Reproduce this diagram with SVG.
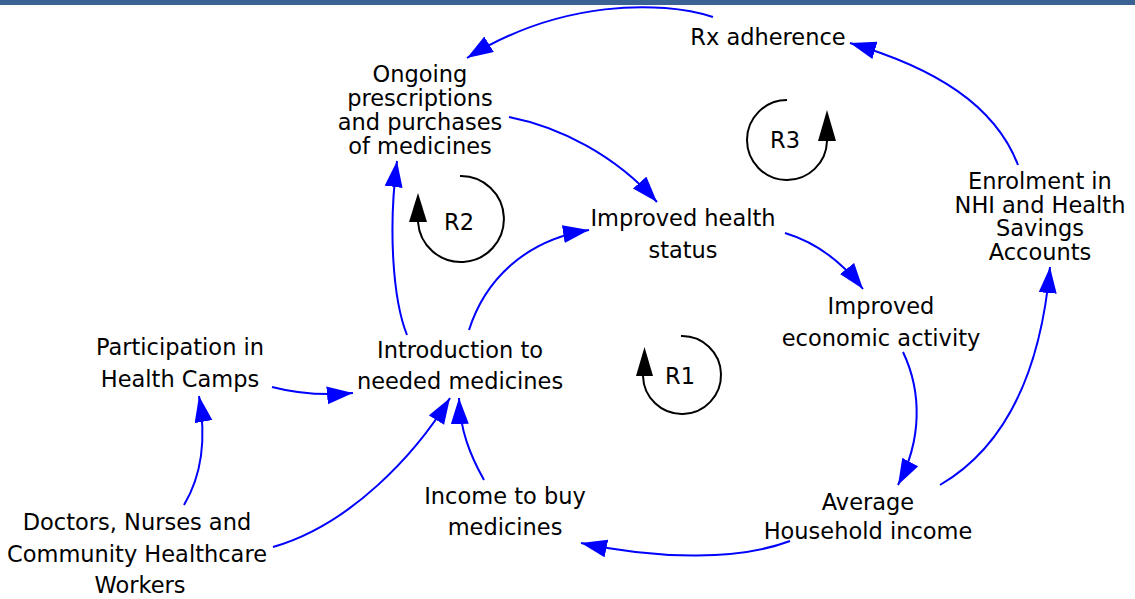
<svg xmlns="http://www.w3.org/2000/svg" width="1135" height="599" viewBox="0 0 1135 599">
  <defs>
    <style>
      .lbl { font-family: "DejaVu Sans", Verdana, sans-serif; font-size: 22.5px; fill: #000; text-anchor: middle; }
      .link { fill: none; stroke: #0000ff; stroke-width: 2; marker-end: url(#arrow); }
      .loop { fill: none; stroke: #000; stroke-width: 2; }
      .loophead { fill: #000; }
    </style>
    <marker id="arrow" markerUnits="userSpaceOnUse" markerWidth="27" markerHeight="19" refX="26" refY="9" orient="auto">
      <path d="M0,0 L26,9 L0,18 z" fill="#0000ff"/>
    </marker>
  </defs>

  <rect width="1135" height="599" fill="#ffffff"/>
  <!-- header rule -->
  <rect x="0" y="0" width="1135" height="5" fill="#3a6394"/>

  <!-- causal links -->
  <g id="connectors">
    <path class="link" d="M713,17 C660,0 560,0 467,58"/>
    <path class="link" d="M509,117 C560,127 615,155 657,202"/>
    <path class="link" d="M407,335 C393,300 388,230 397,161"/>
    <path class="link" d="M469,330 C485,280 525,240 589,230"/>
    <path class="link" d="M785,233 C815,242 842,262 863,289"/>
    <path class="link" d="M903,352 C922,392 922,440 898,485"/>
    <path class="link" d="M790,541 C740,560 660,560 581,543"/>
    <path class="link" d="M484,480 C470,455 460,430 459,398"/>
    <path class="link" d="M272,387 C295,393 320,396 353,393"/>
    <path class="link" d="M184,505 C205,470 205,430 199,396"/>
    <path class="link" d="M273,547 C350,525 415,455 450,398"/>
    <path class="link" d="M940,485 C1000,450 1040,380 1050,267"/>
    <path class="link" d="M1018,165 C995,105 935,68 850,43"/>
  </g>

  <!-- variables -->
  <g id="rx-adherence">
    <text class="lbl" x="768" y="45">Rx adherence</text>
  </g>
  <g id="ongoing-prescriptions">
    <text class="lbl" x="420" y="82">Ongoing</text>
    <text class="lbl" x="420" y="106">prescriptions</text>
    <text class="lbl" x="420" y="130">and purchases</text>
    <text class="lbl" x="420" y="154">of medicines</text>
  </g>
  <g id="improved-health">
    <text class="lbl" x="683" y="226">Improved health</text>
    <text class="lbl" x="683" y="258">status</text>
  </g>
  <g id="improved-economic">
    <text class="lbl" x="881" y="314">Improved</text>
    <text class="lbl" x="881" y="346">economic activity</text>
  </g>
  <g id="enrolment">
    <text class="lbl" x="1040" y="189">Enrolment in</text>
    <text class="lbl" x="1040" y="212.5">NHI and Health</text>
    <text class="lbl" x="1040" y="236">Savings</text>
    <text class="lbl" x="1040" y="259.5">Accounts</text>
  </g>
  <g id="participation">
    <text class="lbl" x="180" y="355">Participation in</text>
    <text class="lbl" x="180" y="387">Health Camps</text>
  </g>
  <g id="introduction">
    <text class="lbl" x="460" y="358">Introduction to</text>
    <text class="lbl" x="460" y="389">needed medicines</text>
  </g>
  <g id="income-to-buy">
    <text class="lbl" x="505" y="504">Income to buy</text>
    <text class="lbl" x="505" y="535">medicines</text>
  </g>
  <g id="household-income">
    <text class="lbl" x="868" y="510">Average</text>
    <text class="lbl" x="868" y="539">Household income</text>
  </g>
  <g id="health-workers">
    <text class="lbl" x="137" y="530">Doctors, Nurses and</text>
    <text class="lbl" x="137" y="562">Community Healthcare</text>
    <text class="lbl" x="140" y="593">Workers</text>
  </g>

  <!-- loop markers -->
  <g id="loop-r1">
    <path class="loop" d="M681,336 A39,39 0 1 1 643,376"/>
    <polygon class="loophead" points="636,376 653,376 644.5,347"/>
    <text class="lbl" x="680" y="384">R1</text>
  </g>
  <g id="loop-r2">
    <path class="loop" d="M460,176 A43,43 0 1 1 418,222"/>
    <polygon class="loophead" points="409,222 427,222 418,193"/>
    <text class="lbl" x="459" y="230">R2</text>
  </g>
  <g id="loop-r3">
    <path class="loop" d="M787,100 A40,40 0 1 0 827,141"/>
    <polygon class="loophead" points="818,141 836,141 827,110"/>
    <text class="lbl" x="785" y="148">R3</text>
  </g>
</svg>
